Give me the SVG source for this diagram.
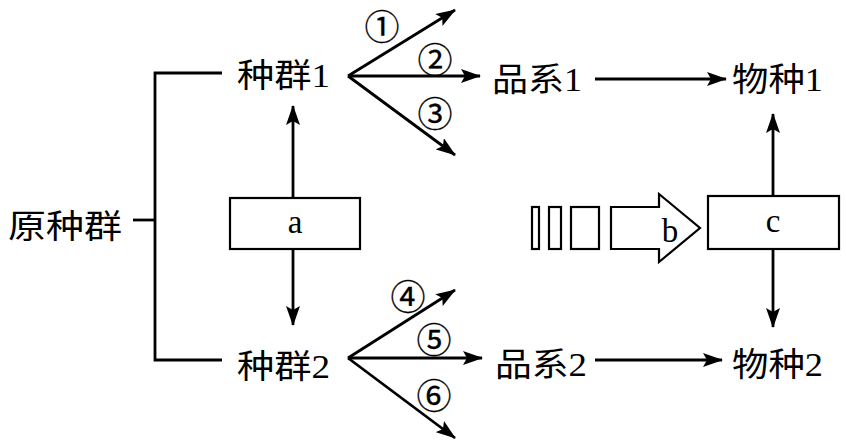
<svg xmlns="http://www.w3.org/2000/svg" width="846" height="446" viewBox="0 0 846 446">
<defs>
<marker id="ah" markerUnits="userSpaceOnUse" markerWidth="20" markerHeight="14" refX="19" refY="7" orient="auto">
<path d="M0,0 L20,7 L0,14 L4,7 Z" fill="#000"/>
</marker>
<style>
.t{font-family:"Liberation Serif","Noto Sans CJK SC",serif;font-size:33px;fill:#000}
.n{font-family:"Noto Sans CJK SC","DejaVu Sans",sans-serif;font-size:35px;fill:#000;stroke:#000;stroke-width:0.3;text-anchor:middle}
.l{font-family:"Liberation Serif",serif;font-size:33px;fill:#000;text-anchor:middle}
.ln{stroke:#000;stroke-width:2.8;fill:none}
.ar{stroke:#000;stroke-width:2.8;fill:none;marker-end:url(#ah)}
.bx{stroke:#000;stroke-width:2.2;fill:#fff}
</style>
</defs>
<rect width="846" height="446" fill="#fff"/>
<g id="connectors">
<path class="ln" d="M222,73 H155 V360 H222"/>
<path class="ln" d="M133,220 H155"/>
<path class="ar" d="M348,76 L455,10"/>
<path class="ar" d="M348,76 L480,76"/>
<path class="ar" d="M348,76 L455,155"/>
<path class="ar" d="M348,358 L455,290"/>
<path class="ar" d="M348,358 L482,358"/>
<path class="ar" d="M348,358 L455,438"/>
<path class="ar" d="M293,198 V106"/>
<path class="ar" d="M293,249 V325"/>
<path class="ar" d="M595,79 H726"/>
<path class="ar" d="M595,360 H722"/>
<path class="ar" d="M773,196 V114"/>
<path class="ar" d="M773,249 V327"/>
</g>
<g id="labels">
<text class="n" x="382" y="40">①</text>
<text class="n" x="435" y="73">②</text>
<text class="n" x="435" y="127">③</text>
<text class="n" x="408" y="310">④</text>
<text class="n" x="434" y="353">⑤</text>
<text class="n" x="434" y="409">⑥</text>
</g>
<g id="node-yuanzhongqun"><text class="t" x="8" y="238" textLength="114" lengthAdjust="spacingAndGlyphs">原种群</text></g>
<g id="node-zhongqun1"><text class="t" x="237" y="87" textLength="93" lengthAdjust="spacingAndGlyphs">种群1</text></g>
<g id="node-zhongqun2"><text class="t" x="237" y="378" textLength="93" lengthAdjust="spacingAndGlyphs">种群2</text></g>
<g id="node-pinxi1"><text class="t" x="492" y="91" textLength="90" lengthAdjust="spacingAndGlyphs">品系1</text></g>
<g id="node-pinxi2"><text class="t" x="495" y="376" textLength="92" lengthAdjust="spacingAndGlyphs">品系2</text></g>
<g id="node-wuzhong1"><text class="t" x="732" y="91" textLength="91" lengthAdjust="spacingAndGlyphs">物种1</text></g>
<g id="node-wuzhong2"><text class="t" x="732" y="376" textLength="91" lengthAdjust="spacingAndGlyphs">物种2</text></g>
<g id="node-a">
<rect class="bx" x="230" y="198" width="130" height="51"/>
<text class="l" x="295" y="233">a</text>
</g>
<g id="node-c">
<rect class="bx" x="708" y="196" width="131" height="53"/>
<text class="l" x="773" y="232">c</text>
</g>
<g id="node-b">
<rect class="bx" x="532" y="207" width="7" height="42"/>
<rect class="bx" x="549" y="207" width="12" height="42"/>
<rect class="bx" x="571" y="207" width="28" height="42"/>
<polygon class="bx" points="611,207 659,207 659,194 700,228 659,262 659,249 611,249"/>
<text class="l" x="670" y="242">b</text>
</g>
</svg>
